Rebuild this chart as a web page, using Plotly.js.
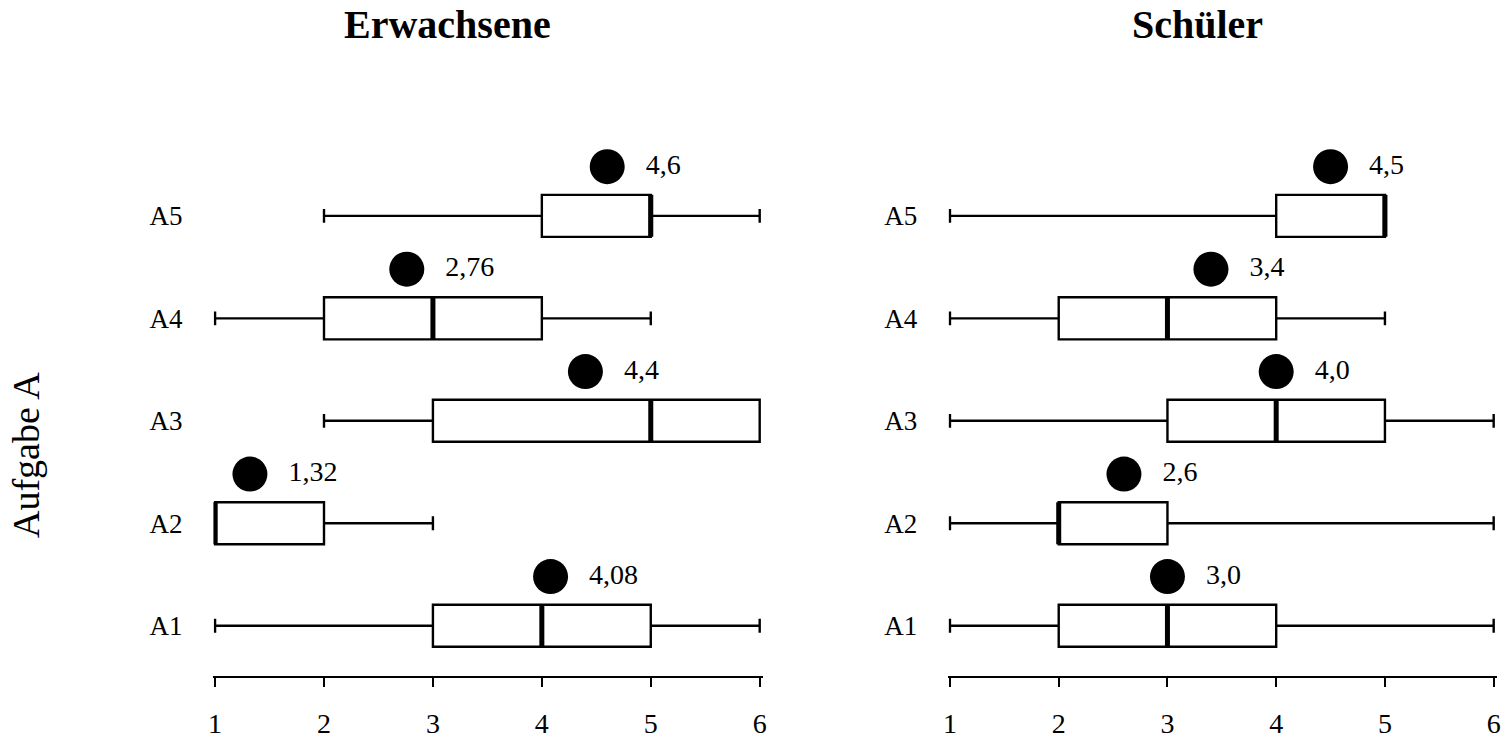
<!DOCTYPE html>
<html>
<head>
<meta charset="utf-8">
<script src="https://cdn.plot.ly/plotly-3.0.1.min.js"></script>
<style>html,body{margin:0;padding:0;background:#fff;}#chart{width:1501px;height:738px;}</style>
</head>
<body>
<div id="chart"></div>
<script>
// Categories (Aufgaben) and their positions on the category axis
const tasks = ["A1", "A2", "A3", "A4", "A5"];
const taskPos = [0, 1, 2, 3, 4];

// Erwachsene
const adultMin    = [1, 1, 2, 1, 2];
const adultQ1     = [3, 1, 3, 2, 4];
const adultMedian = [4, 1, 5, 3, 5];
const adultQ3     = [5, 2, 6, 4, 5];
const adultMax    = [6, 3, 6, 5, 6];
const adultMean   = [4.08, 1.32, 4.4, 2.76, 4.6];
const adultMeanLabels = ["4,08", "1,32", "4,4", "2,76", "4,6"];

// Schüler
const pupilMin    = [1, 1, 1, 1, 1];
const pupilQ1     = [2, 2, 3, 2, 4];
const pupilMedian = [3, 2, 4, 3, 5];
const pupilQ3     = [4, 3, 5, 4, 5];
const pupilMax    = [6, 6, 6, 5, 5];
const pupilMean   = [3.0, 2.6, 4.0, 3.4, 4.5];
const pupilMeanLabels = ["3,0", "2,6", "4,0", "3,4", "4,5"];

// x-axis ticks
const xTicks = [1, 2, 3, 4, 5, 6];

const serif = "Liberation Serif, Times New Roman, serif";
const meanOffset = 0.48;   // mean dot drawn above its box
const boxWidth = 0.41;

function panel(minV, q1, med, q3, maxV, mean, labels, xa, ya) {
  const meanY = taskPos.map(p => p + meanOffset);
  return [
    {
      type: "box", orientation: "h", xaxis: xa, yaxis: ya,
      y: taskPos, q1: q1, median: med, q3: q3,
      lowerfence: minV, upperfence: maxV,
      boxpoints: false, width: boxWidth, whiskerwidth: 0.33,
      fillcolor: "#ffffff",
      line: {color: "#000000", width: 2.4},
      hoverinfo: "skip", showlegend: false
    },
    {
      type: "scatter", mode: "markers", xaxis: xa, yaxis: ya,
      x: med, y: taskPos,
      marker: {symbol: "line-ns-open", size: 30, color: "#000000",
               line: {color: "#000000", width: 5}},
      hoverinfo: "skip", showlegend: false
    },
    {
      type: "scatter", mode: "markers", xaxis: xa, yaxis: ya,
      x: mean, y: meanY,
      marker: {symbol: "circle", size: 35, color: "#000000"},
      cliponaxis: false,
      hoverinfo: "skip", showlegend: false
    },
    {
      type: "scatter", mode: "markers+text", xaxis: xa, yaxis: ya,
      x: mean, y: meanY,
      text: labels, textposition: "middle right",
      textfont: {family: serif, size: 28, color: "#000000"},
      marker: {symbol: "circle", size: 60, color: "rgba(0,0,0,0)"},
      cliponaxis: false,
      hoverinfo: "skip", showlegend: false
    }
  ];
}

const data = [].concat(
  panel(adultMin, adultQ1, adultMedian, adultQ3, adultMax, adultMean, adultMeanLabels, "x", "y"),
  panel(pupilMin, pupilQ1, pupilMedian, pupilQ3, pupilMax, pupilMean, pupilMeanLabels, "x2", "y2")
);

const xCommon = {
  range: [0.985, 6.03], tickvals: xTicks, ticktext: xTicks.map(String),
  showgrid: false, zeroline: false, showline: true, linecolor: "#000000", linewidth: 2,
  ticks: "outside", ticklen: 9, tickwidth: 2, tickcolor: "#000000",
  ticklabelstandoff: 12,
  tickfont: {family: serif, size: 28, color: "#000000"},
  fixedrange: true, automargin: false
};
const yCommon = {
  range: [-0.49, 4.74], tickvals: taskPos, ticktext: tasks,
  showgrid: false, zeroline: false, showline: false, ticks: "",
  ticklabelstandoff: 30,
  tickfont: {family: serif, size: 27, color: "#000000"},
  fixedrange: true, automargin: false
};

const layout = {
  width: 1501, height: 738,
  margin: {l: 0, r: 0, t: 140, b: 62},
  paper_bgcolor: "#ffffff", plot_bgcolor: "#ffffff",
  showlegend: false,
  xaxis: Object.assign({}, xCommon, {domain: [0.1422, 0.5083], anchor: "y"}),
  yaxis: Object.assign({}, yCommon, {anchor: "x"}),
  xaxis2: Object.assign({}, xCommon, {domain: [0.6318, 0.9973], anchor: "y2"}),
  yaxis2: Object.assign({}, yCommon, {anchor: "x2"}),
  annotations: [
    {text: "<b>Erwachsene</b>", xref: "paper", yref: "paper", x: 448/1501, y: 1.216,
     xanchor: "center", yanchor: "middle", showarrow: false,
     font: {family: serif, size: 40, color: "#000000"}},
    {text: "<b>Schüler</b>", xref: "paper", yref: "paper", x: 1197/1501, y: 1.216,
     xanchor: "center", yanchor: "middle", showarrow: false,
     font: {family: serif, size: 40, color: "#000000"}},
    {text: "Aufgabe A", xref: "paper", yref: "paper", x: 26/1501, y: (676-455)/536,
     xanchor: "center", yanchor: "middle", textangle: -90, showarrow: false,
     font: {family: serif, size: 38, color: "#000000"}}
  ]
};

Plotly.newPlot("chart", data, layout, {staticPlot: true, displayModeBar: false});
</script>
</body>
</html>
